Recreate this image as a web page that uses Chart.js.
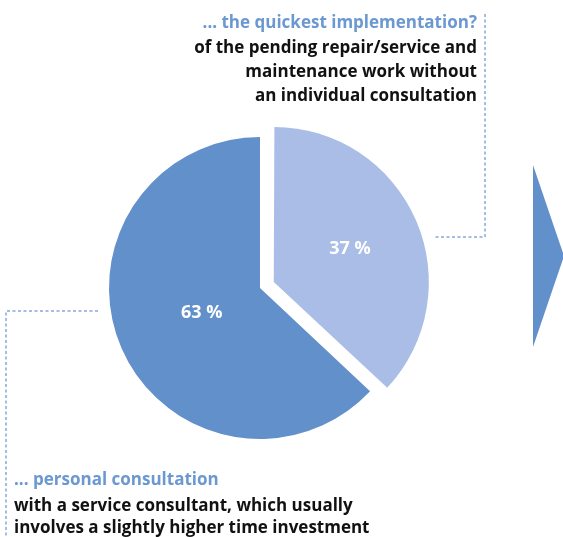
<!DOCTYPE html>
<html>
<head>
<meta charset="utf-8">
<script src="https://cdn.jsdelivr.net/npm/chart.js@4"></script>
<style>
  html, body { margin: 0; padding: 0; background: #fff; }
  #c { display: block; }
</style>
</head>
<body>
<canvas id="c" width="563" height="537"></canvas>
<script>
const labels = ['... the quickest implementation?', '... personal consultation'];
const shares = [37, 63];
const sliceColors = ['#a9bde7', '#6190cb'];
// Chart.js moves an arc by offset/4, so 60 gives a 15px pull-out
const sliceOffsets = [60, 0];
const labelRadius = [0.55, 0.42];

const topNote = ['of the pending repair/service and', 'maintenance work without', 'an individual consultation'];
const bottomNote = ['with a service consultant, which usually', 'involves a slightly higher time investment'];

const FONT = '"Open Sans", "Noto Sans", sans-serif';
const accent = '#6b98d1';

const decor = {
  id: 'decor',
  afterDraw(chart) {
    const ctx = chart.ctx;
    ctx.save();

    // leader lines
    ctx.strokeStyle = '#86a8da';
    ctx.lineWidth = 1.5;
    ctx.setLineDash([3, 2.5]);
    ctx.beginPath();
    ctx.moveTo(485, 14);
    ctx.lineTo(485, 237);
    ctx.lineTo(433, 237);
    ctx.moveTo(98, 311);
    ctx.lineTo(6, 311);
    ctx.lineTo(6, 537);
    ctx.stroke();
    ctx.setLineDash([]);

    // arrow on the right
    ctx.fillStyle = '#6190cb';
    ctx.beginPath();
    ctx.moveTo(533, 165);
    ctx.lineTo(564, 256);
    ctx.lineTo(533, 347);
    ctx.closePath();
    ctx.fill();

    // top annotation
    ctx.textBaseline = 'middle';
    ctx.textAlign = 'right';
    ctx.fillStyle = accent;
    ctx.font = 'bold 17px ' + FONT;
    ctx.fillText(labels[0], 477, 23);
    ctx.fillStyle = '#111';
    topNote.forEach((t, i) => ctx.fillText(t, 477, 48 + i * 24));

    // bottom annotation
    ctx.textAlign = 'left';
    ctx.fillStyle = accent;
    ctx.fillText(labels[1], 14, 480);
    ctx.fillStyle = '#111';
    bottomNote.forEach((t, i) => ctx.fillText(t, 14, 506 + i * 22));

    // percentage labels
    const meta = chart.getDatasetMeta(0);
    ctx.textAlign = 'center';
    ctx.fillStyle = '#fff';
    ctx.font = 'bold 18px ' + FONT;
    meta.data.forEach((arc, i) => {
      const p = arc.getProps(['x', 'y', 'startAngle', 'endAngle', 'outerRadius']);
      const mid = (p.startAngle + p.endAngle) / 2;
      const r = p.outerRadius * labelRadius[i] + sliceOffsets[i] / 4;
      ctx.fillText(shares[i] + ' %', p.x + Math.cos(mid) * r, p.y + Math.sin(mid) * r);
    });
    ctx.restore();
  }
};

new Chart(document.getElementById('c'), {
  type: 'pie',
  data: {
    labels: labels,
    datasets: [{
      data: shares,
      backgroundColor: sliceColors,
      offset: sliceOffsets,
      borderWidth: 0,
      hoverOffset: 0
    }]
  },
  options: {
    responsive: false,
    animation: false,
    events: [],
    radius: 151,
    layout: { padding: { left: 100.5, right: 143.5, top: 128.5, bottom: 89.5 } },
    plugins: { legend: { display: false }, tooltip: { enabled: false } }
  },
  plugins: [decor]
});
</script>
</body>
</html>
